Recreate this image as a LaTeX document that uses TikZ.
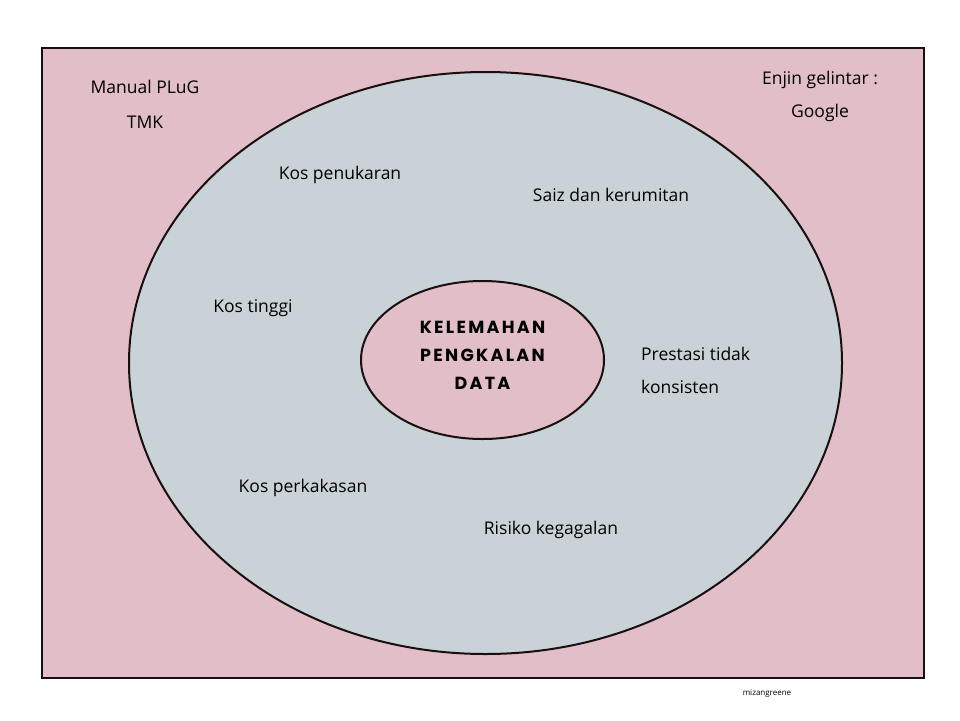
\documentclass[tikz,border=0pt]{standalone}
\usepackage{fontspec}
\usetikzlibrary{shapes.geometric}
\setmainfont{Open Sans}
\newfontfamily\titlefont[LetterSpace=13]{Poppins}
\definecolor{bgpink}{RGB}{225,190,200}
\definecolor{greyblue}{RGB}{200,210,215}
\definecolor{inpink}{RGB}{226,190,200}
\definecolor{edge}{RGB}{25,15,15}
\tikzset{
  lbl/.style={font=\fontsize{17.5}{20}\selectfont, text=black, inner sep=0pt},
  lbll/.style={lbl, anchor=west},
  ttl/.style={font=\titlefont\bfseries\fontsize{17.5}{28}\selectfont, align=center, text=black, inner sep=0pt},
}
\begin{document}
\begin{tikzpicture}[x=1pt,y=-1pt]
\useasboundingbox (0,0) rectangle (960,720);
\fill[white] (0,0) rectangle (960,720);
\draw[line width=2pt, edge, fill=bgpink] (42,48) rectangle (924,678);
\node[draw=edge, line width=2pt, fill=greyblue, ellipse, minimum width=713pt, minimum height=582pt, inner sep=0pt] (outer) at (485.5,363) {};
\node[draw=edge, line width=2pt, fill=inpink, ellipse, minimum width=243pt, minimum height=158pt, inner sep=0pt] (inner) at (482.5,360) {};
\node[ttl] (title) at (482.5,355) {KELEMAHAN\\PENGKALAN\\DATA};
\node[lbl] (manual) at (145,87) {Manual PLuG};
\node[lbl] (tmk) at (145,122) {TMK};
\node[lbl] (enjin) at (820,80) {Enjin gelintar :};
\node[lbl] (google) at (820,113) {Google};
\node[lbl] (penukaran) at (340,175) {Kos penukaran};
\node[lbl] (saiz) at (611,195) {Saiz dan kerumitan};
\node[lbl] (tinggi) at (253,308) {Kos tinggi};
\node[lbll] (prestasi) at (641,354) {Prestasi tidak};
\node[lbll] (konsisten) at (641,387) {konsisten};
\node[lbl] (perkakasan) at (303,488) {Kos perkakasan};
\node[lbl] (risiko) at (551,530) {Risiko kegagalan};
\node[font=\fontsize{8}{9}\selectfont, inner sep=0pt] (sig) at (767,694) {mizangreene};
\end{tikzpicture}
\end{document}
